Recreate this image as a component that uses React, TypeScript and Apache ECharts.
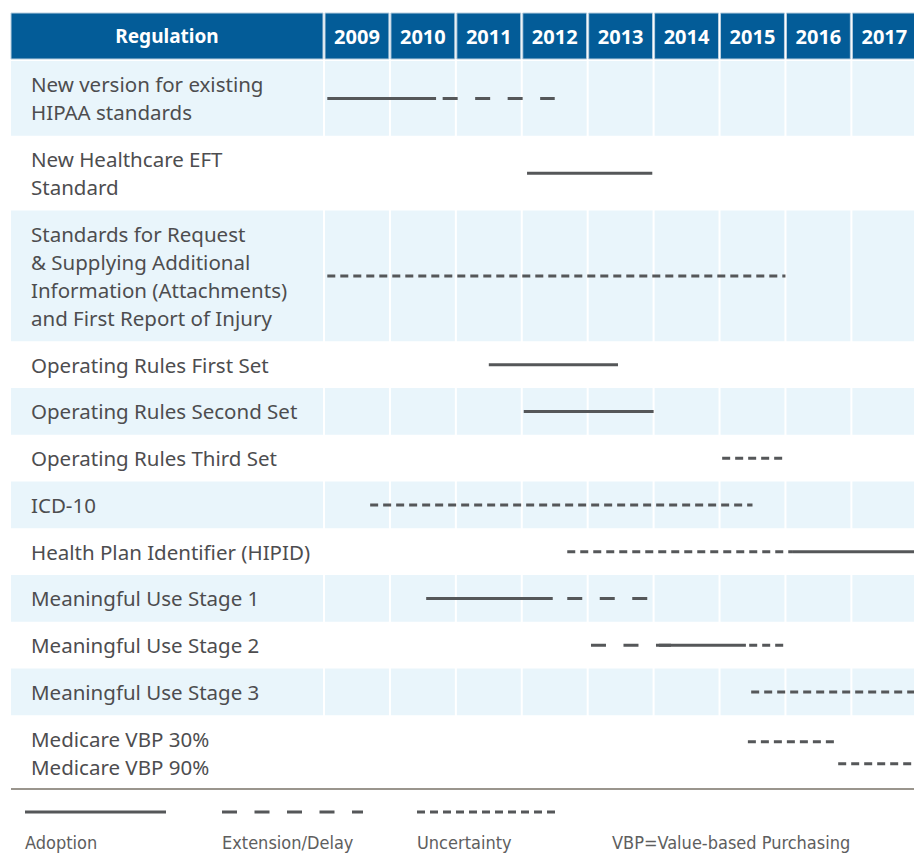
import React, { useEffect, useRef } from "react";
import * as echarts from "echarts";

// ---------- data ----------
const headerLabel = "Regulation";
const years = ["2009", "2010", "2011", "2012", "2013", "2014", "2015", "2016", "2017"];
const regulations = [
  "New version for existing\nHIPAA standards",
  "New Healthcare EFT\nStandard",
  "Standards for Request\n& Supplying Additional\nInformation (Attachments)\nand First Report of Injury",
  "Operating Rules First Set",
  "Operating Rules Second Set",
  "Operating Rules Third Set",
  "ICD-10",
  "Health Plan Identifier (HIPID)",
  "Meaningful Use Stage 1",
  "Meaningful Use Stage 2",
  "Meaningful Use Stage 3",
  "Medicare VBP 30%\nMedicare VBP 90%",
];
// [row, subLine, startYear, endYear]
const adoption = [
  [0, 0, 2009.05, 2010.7],
  [1, 0, 2012.08, 2013.98],
  [3, 0, 2011.5, 2013.46],
  [4, 0, 2012.03, 2014.0],
  [7, 0, 2016.1, 2018.3],
  [8, 0, 2010.55, 2012.47],
  [9, 0, 2014.08, 2015.4],
];
const extension = [
  [0, 0, 2010.8, 2012.5],
  [8, 0, 2012.69, 2013.95],
  [9, 0, 2013.05, 2014.33],
];
const uncertainty = [
  [2, 0, 2009.05, 2016.0],
  [5, 0, 2015.04, 2016.0],
  [6, 0, 2009.7, 2015.5],
  [7, 0, 2012.69, 2016.1],
  [9, 0, 2015.45, 2016.0],
  [10, 0, 2015.48, 2018.3],
  [11, 0, 2015.43, 2016.75],
  [11, 1, 2016.8, 2018.3],
];
const legendLabels = ["Adoption", "Extension/Delay", "Uncertainty"];
const footnote = "VBP=Value-based Purchasing";

// ---------- styles / layout ----------
const W = 914;
const H = 853;
const BLUE = "#035c98";
const SHADE = "#e9f5fb";
const TEXT = "#4d4d4f";
const LINE = "#555759";
const FONT = "'Noto Sans', 'Open Sans', sans-serif";
const NARROW = "'DejaVu Sans Condensed', 'Liberation Sans Narrow', 'Liberation Sans', sans-serif";
const DASHES: Record<string, number[] | undefined> = {
  adoption: undefined,
  extension: [15, 17.5],
  uncertainty: [8, 5],
};
const HEADER_H = 46;
const HEADER_GAP = 2;
const LINE_H = 28;
const ROW_PAD = 18.75;
const SUB_GAP = 22;
const TABLE_LEFT = 11;
const LABEL_X = 31;
const GRID_TOP = 13;
const GRID_LEFT = 324;
const X_MIN = 2009;
const X_MAX = 2017.95;

const lineCounts = regulations.map((r) => r.split("\n").length);
const rowTops: number[] = [];
const rowHeights: number[] = [];
{
  let y = HEADER_H + HEADER_GAP;
  lineCounts.forEach((n) => {
    const h = ROW_PAD + LINE_H * n;
    rowTops.push(y);
    rowHeights.push(h);
    y += h;
  });
}
const TOTAL = rowTops[rowTops.length - 1] + rowHeights[rowHeights.length - 1];
const rowCenter = (i: number) => rowTops[i] + rowHeights[i] / 2;

function App() {
  const ref = useRef<HTMLDivElement>(null);
  useEffect(() => {
    if (!ref.current) return;
    const chart = echarts.init(ref.current, undefined, { renderer: "svg" });

    const headerData = [[X_MIN - 1, 0], ...years.map((y) => [Number(y), 0])];

    const headerItem = (params: any, api: any) => {
      const cs = params.coordSys;
      const v = api.value(0);
      const top = api.coord([X_MIN, 0])[1];
      const bottom = api.coord([X_MIN, HEADER_H])[1];
      let x1: number, x2: number, text: string;
      if (params.dataIndex === 0) {
        x1 = TABLE_LEFT;
        x2 = cs.x - 1;
        text = headerLabel;
      } else {
        x1 = api.coord([v, 0])[0] + 1;
        x2 = api.coord([v + 1, 0])[0] - 1;
        text = years[params.dataIndex - 1];
      }
      return {
        type: "group",
        children: [
          {
            type: "rect",
            shape: { x: x1, y: top, width: x2 - x1, height: bottom - top },
            style: { fill: BLUE, stroke: "#b9cfe0", lineWidth: 1 },
          },
          {
            type: "text",
            style: {
              text,
              x: (x1 + x2) / 2,
              y: (top + bottom) / 2,
              align: "center",
              verticalAlign: "middle",
              fill: "#ffffff",
              fontSize: params.dataIndex === 0 ? 19 : 20,
              fontWeight: "bold",
              fontFamily: FONT,
            },
          },
        ],
      };
    };

    const rowItem = (params: any, api: any) => {
      const cs = params.coordSys;
      const i = params.dataIndex;
      const top = api.coord([X_MIN, rowTops[i]])[1];
      const bottom = api.coord([X_MIN, rowTops[i] + rowHeights[i]])[1];
      const children: any[] = [];
      if (i % 2 === 0) {
        children.push({
          type: "rect",
          shape: { x: TABLE_LEFT, y: top, width: cs.x - 1 - TABLE_LEFT, height: bottom - top },
          style: { fill: SHADE },
        });
        years.forEach((y) => {
          const yr = Number(y);
          const a = api.coord([yr, 0])[0] + 1;
          const b = api.coord([yr + 1, 0])[0] - 1;
          children.push({
            type: "rect",
            shape: { x: a, y: top, width: b - a, height: bottom - top },
            style: { fill: SHADE },
          });
        });
      }
      children.push({
        type: "text",
        style: {
          text: regulations[i],
          x: LABEL_X,
          y: (top + bottom) / 2,
          align: "left",
          verticalAlign: "middle",
          fill: TEXT,
          fontSize: 20.5,
          lineHeight: LINE_H,
          fontFamily: FONT,
        },
      });
      return { type: "group", children };
    };

    const segItem = (kind: string) => (params: any, api: any) => {
      const row = api.value(0);
      const sub = api.value(1);
      const s = api.value(2);
      const e = api.value(3);
      const nSub = row === regulations.length - 1 ? lineCounts[row] : 1;
      const y = rowCenter(row) + (sub - (nSub - 1) / 2) * SUB_GAP;
      const p1 = api.coord([s, y]);
      const p2 = api.coord([e, y]);
      return {
        type: "line",
        shape: { x1: p1[0], y1: p1[1], x2: p2[0], y2: p2[1] },
        style: { stroke: LINE, lineWidth: 3, lineDash: DASHES[kind] },
      };
    };

    const legendX = [25, 222, 417];
    const legendLen = 141;
    const legendKinds = ["adoption", "extension", "uncertainty"];
    const graphic: any[] = [
      {
        type: "line",
        shape: { x1: TABLE_LEFT, y1: 789, x2: W, y2: 789 },
        style: { stroke: "#9a958d", lineWidth: 2 },
      },
    ];
    legendKinds.forEach((k, i) => {
      graphic.push({
        type: "line",
        shape: { x1: legendX[i], y1: 812, x2: legendX[i] + legendLen, y2: 812 },
        style: { stroke: LINE, lineWidth: 3, lineDash: DASHES[k] },
      });
      graphic.push({
        type: "text",
        x: legendX[i],
        y: 842,
        style: {
          text: legendLabels[i],
          fill: "#5e5e5e",
          fontSize: 18,
          fontFamily: NARROW,
          verticalAlign: "middle",
        },
      });
    });
    graphic.push({
      type: "text",
      x: 612,
      y: 842,
      style: { text: footnote, fill: "#5e5e5e", fontSize: 18, fontFamily: NARROW, verticalAlign: "middle" },
    });

    chart.setOption({
      animation: false,
      grid: {
        left: GRID_LEFT,
        right: 0,
        top: GRID_TOP,
        height: TOTAL,
      },
      xAxis: { type: "value", min: X_MIN, max: X_MAX, show: false, splitLine: { show: false } },
      yAxis: { type: "value", min: 0, max: TOTAL, inverse: true, show: false, splitLine: { show: false } },
      graphic,
      series: [
        { type: "custom", renderItem: rowItem, data: regulations.map((_, i) => [X_MIN, i]), clip: false, silent: true },
        { type: "custom", renderItem: headerItem, data: headerData, clip: false, silent: true },
        { type: "custom", renderItem: segItem("uncertainty"), data: uncertainty, clip: false, silent: true },
        { type: "custom", renderItem: segItem("extension"), data: extension, clip: false, silent: true },
        { type: "custom", renderItem: segItem("adoption"), data: adoption, clip: false, silent: true },
      ],
    });
    return () => chart.dispose();
  }, []);
  return (
    <div
      ref={ref}
      style={{ position: "absolute", left: 0, top: 0, width: W, height: H }}
    />
  );
}

export default App;
